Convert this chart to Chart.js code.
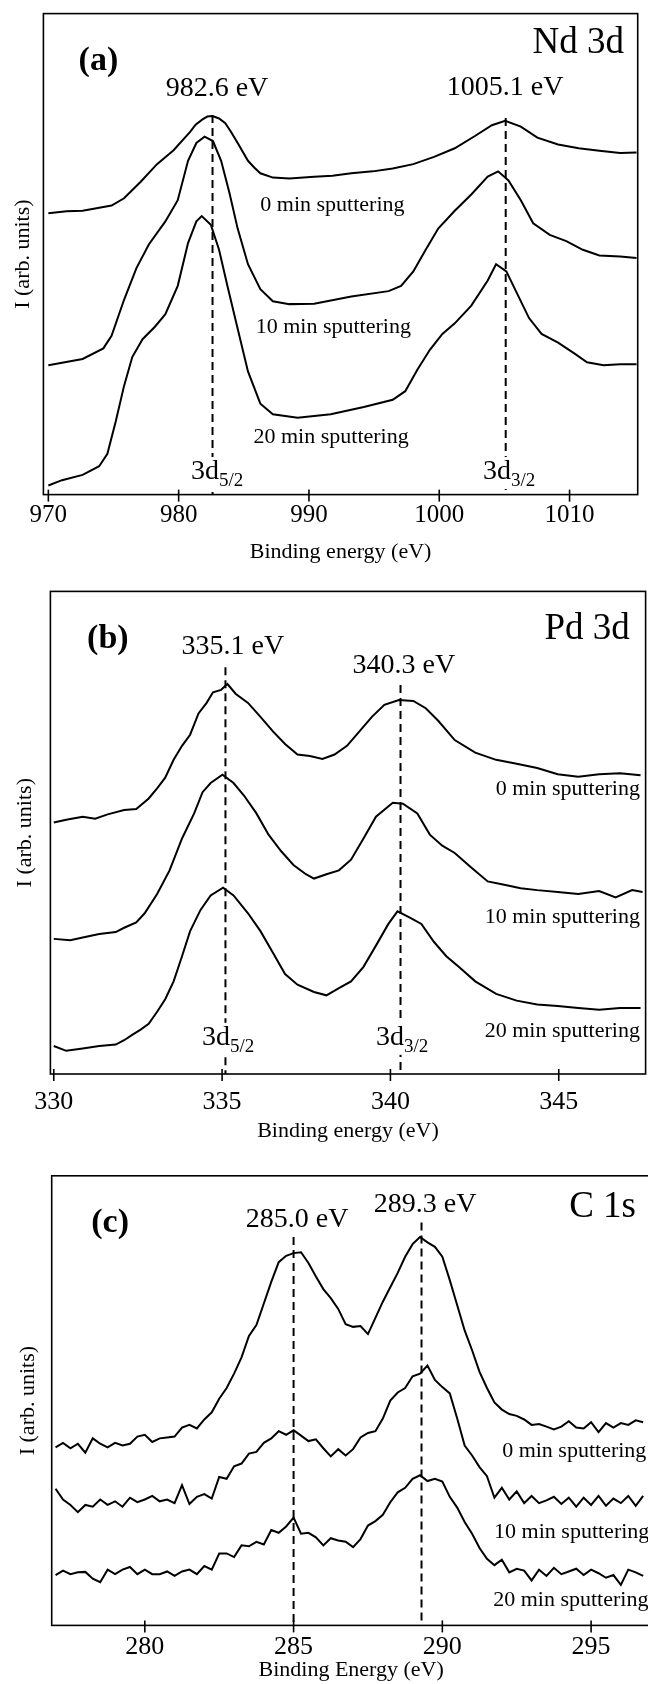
<!DOCTYPE html>
<html>
<head>
<meta charset="utf-8">
<script src="https://cdn.jsdelivr.net/npm/chart.js@4.4.1/dist/chart.umd.min.js"></script>
<style>
  body { margin: 0; background: #fff; width: 648px; height: 1684px; overflow: hidden; position: relative; }
  .panel { position: absolute; left: 0; }
</style>
</head>
<body>
<div class="panel" style="top:0px"><canvas id="chartA" width="660" height="565"></canvas></div>
<div class="panel" style="top:565px"><canvas id="chartB" width="660" height="585"></canvas></div>
<div class="panel" style="top:1150px"><canvas id="chartC" width="660" height="534"></canvas></div>
<script>
// ---- (a) Nd 3d ----
const aTicks = [970, 980, 990, 1000, 1010];
const aEnergy0 = [970.0, 971.4, 972.63, 973.8, 974.85, 975.81, 977.07, 978.34, 979.61, 980.88, 981.3, 981.83, 982.2, 982.59, 983.1, 983.58, 984.0, 984.53, 985.32, 985.8, 986.27, 987.23, 988.50, 990.40, 991.8, 993.25, 994.9, 996.43, 998.01, 999.60, 1001.19, 1002.77, 1004.04, 1005.06, 1006.26, 1007.53, 1009.12, 1010.70, 1012.29, 1013.88, 1015.14];
const aInt0 = [58.5, 58.9, 59.0, 59.6, 60.1, 61.6, 65.0, 68.7, 71.6, 75.4, 76.9, 78.0, 78.6, 78.7, 78.2, 77.2, 75.5, 73.1, 69.4, 68.0, 66.8, 65.9, 65.7, 66.1, 66.3, 66.8, 67.2, 67.8, 68.7, 70.2, 72.0, 74.6, 76.8, 77.7, 76.5, 74.2, 72.8, 72.0, 71.5, 71.0, 71.1];
const aEnergy10 = [970.0, 972.63, 974.22, 974.85, 975.81, 976.76, 977.71, 978.98, 979.93, 980.72, 981.36, 981.99, 982.63, 983.26, 983.90, 984.53, 985.32, 986.27, 987.23, 988.50, 990.40, 993.25, 996.11, 997.07, 998.01, 998.96, 999.92, 1001.19, 1002.46, 1003.72, 1004.52, 1005.31, 1006.26, 1007.21, 1008.48, 1009.75, 1011.02, 1012.29, 1013.88, 1015.14];
const aInt10 = [26.9, 28.2, 30.4, 33.0, 40.5, 47.1, 52.0, 56.8, 61.2, 69.4, 73.1, 74.4, 73.5, 69.4, 62.7, 55.3, 47.9, 42.7, 40.2, 39.6, 39.7, 41.2, 42.3, 43.4, 46.4, 50.9, 55.3, 59.0, 62.4, 66.1, 67.2, 65.3, 61.2, 56.4, 54.0, 52.7, 50.9, 49.7, 49.5, 49.2];
const aEnergy20 = [970.0, 971.05, 972.63, 973.90, 974.53, 975.17, 975.81, 976.44, 977.23, 978.18, 978.98, 979.93, 980.72, 981.36, 981.77, 982.47, 983.10, 983.74, 984.53, 985.32, 986.27, 987.23, 989.13, 991.67, 994.21, 996.43, 997.39, 998.33, 999.28, 1000.24, 1001.19, 1002.46, 1003.72, 1004.36, 1005.15, 1005.94, 1006.89, 1007.85, 1009.12, 1010.39, 1011.34, 1012.61, 1013.88, 1015.14];
const aInt20 = [1.9, 3.0, 4.1, 5.9, 8.5, 15.2, 22.6, 28.6, 32.3, 34.9, 37.5, 43.4, 52.3, 56.8, 57.9, 56.1, 50.9, 43.4, 34.5, 25.6, 18.9, 16.7, 16.0, 16.7, 18.2, 19.7, 21.5, 26.0, 30.1, 33.4, 35.6, 39.3, 44.5, 47.9, 46.4, 42.0, 36.7, 33.4, 31.6, 29.3, 27.5, 26.9, 27.1, 27.1];

// ---- (b) Pd 3d ----
const bTicks = [330, 335, 340, 345];
const bEnergy0 = [330.00, 330.37, 330.86, 331.23, 331.60, 332.09, 332.45, 332.82, 333.07, 333.31, 333.56, 333.81, 334.05, 334.30, 334.54, 334.73, 334.97, 335.16, 335.40, 335.77, 336.14, 336.51, 336.87, 337.24, 337.61, 337.98, 338.34, 338.71, 339.08, 339.45, 339.82, 340.25, 340.68, 341.05, 341.42, 341.91, 342.52, 343.14, 343.75, 344.36, 344.97, 345.58, 346.20, 346.82, 347.43];
const bInt0 = [52.1, 52.7, 53.3, 52.9, 53.8, 54.7, 54.9, 57.1, 59.2, 61.4, 65.1, 68.0, 70.3, 74.7, 76.9, 79.1, 79.6, 80.8, 78.8, 76.9, 74.0, 71.0, 68.4, 66.2, 65.9, 65.3, 66.2, 68.0, 71.0, 74.0, 76.5, 77.5, 77.3, 75.8, 73.2, 69.2, 66.6, 65.1, 64.3, 63.4, 62.1, 61.6, 62.1, 62.3, 61.9];
const bEnergy10 = [330.00, 330.49, 330.86, 331.35, 331.84, 332.09, 332.45, 332.70, 333.07, 333.44, 333.81, 334.17, 334.42, 334.66, 335.01, 335.34, 335.65, 336.02, 336.38, 336.75, 337.12, 337.49, 337.73, 338.10, 338.47, 338.83, 339.20, 339.57, 340.07, 340.37, 340.80, 341.17, 341.54, 341.91, 342.40, 342.89, 343.38, 343.87, 344.36, 344.97, 345.58, 346.20, 346.69, 347.18, 347.49];
const bInt10 = [28.0, 27.7, 28.3, 29.0, 29.4, 30.3, 31.4, 33.3, 37.3, 42.2, 48.8, 54.0, 58.4, 60.3, 62.0, 60.3, 57.7, 54.0, 49.6, 46.2, 43.3, 41.4, 40.5, 41.4, 42.2, 44.4, 48.8, 53.3, 56.2, 56.0, 54.0, 49.6, 47.3, 45.8, 42.8, 39.9, 39.2, 38.5, 38.1, 37.7, 37.3, 37.9, 36.6, 38.1, 37.7];
const bEnergy20 = [330.00, 330.37, 330.86, 331.35, 331.84, 332.09, 332.33, 332.58, 332.82, 333.07, 333.31, 333.56, 333.81, 334.05, 334.36, 334.66, 335.03, 335.34, 335.77, 336.14, 336.51, 336.87, 337.24, 337.73, 338.10, 338.47, 338.83, 339.20, 339.57, 339.94, 340.21, 340.55, 340.92, 341.29, 341.66, 342.03, 342.52, 343.14, 343.75, 344.36, 344.97, 345.58, 346.20, 346.82, 347.43];
const bInt20 = [5.8, 4.8, 5.3, 5.8, 6.1, 7.0, 8.1, 9.2, 10.4, 12.9, 15.5, 19.2, 24.4, 29.6, 34.0, 37.0, 38.6, 37.0, 33.3, 29.6, 25.1, 20.7, 18.5, 17.0, 16.3, 17.8, 19.2, 22.2, 26.6, 31.1, 33.7, 32.5, 31.1, 27.4, 24.4, 22.2, 19.2, 16.6, 15.2, 14.4, 14.1, 13.7, 13.3, 13.7, 13.7];

// ---- (c) C 1s ----
const cTicks = [280, 285, 290, 295];
const cEnergy = [277.00, 277.25, 277.50, 277.75, 278.00, 278.25, 278.50, 278.75, 279.00, 279.25,
  279.50, 279.75, 280.00, 280.25, 280.50, 280.75, 281.00, 281.25, 281.50, 281.75,
  282.00, 282.25, 282.50, 282.75, 283.00, 283.25, 283.50, 283.75, 284.00, 284.25,
  284.50, 284.75, 285.00, 285.25, 285.50, 285.75, 286.00, 286.25, 286.50, 286.75,
  287.00, 287.25, 287.50, 287.75, 288.00, 288.25, 288.50, 288.75, 289.00, 289.25,
  289.50, 289.75, 290.00, 290.25, 290.50, 290.75, 291.00, 291.25, 291.50, 291.75,
  292.00, 292.25, 292.50, 292.75, 293.00, 293.25, 293.50, 293.75, 294.00, 294.25,
  294.50, 294.75, 295.00, 295.25, 295.50, 295.75, 296.00, 296.25, 296.50, 296.75];
const cInt0 = [39.6, 40.6, 39.4, 40.4, 38.4, 41.6, 40.4, 39.6, 40.6, 40.0,
  40.4, 42.0, 42.4, 40.8, 41.6, 41.8, 42.0, 44.0, 44.6, 43.8,
  45.8, 47.4, 50.4, 52.8, 56.0, 59.6, 64.4, 66.8, 71.6, 76.4,
  80.8, 82.2, 82.8, 83.0, 80.6, 77.6, 74.8, 72.8, 70.4, 67.0,
  66.4, 66.6, 64.8, 68.4, 72.0, 75.2, 78.4, 82.0, 84.8, 86.4,
  85.2, 84.2, 82.0, 76.8, 71.2, 65.6, 61.2, 56.4, 52.8, 49.6,
  48.0, 47.0, 46.6, 45.8, 44.6, 44.8, 44.2, 43.6, 44.2, 45.4,
  44.0, 43.8, 45.2, 43.0, 45.0, 44.0, 45.0, 44.6, 45.6, 45.2];
const cInt10 = [30.4, 28.0, 26.8, 25.2, 26.8, 26.4, 28.0, 26.8, 27.6, 26.4,
  28.4, 27.4, 28.0, 28.8, 27.6, 28.0, 27.2, 31.2, 27.0, 28.6,
  29.2, 28.2, 33.0, 32.6, 35.4, 36.0, 38.2, 38.6, 40.6, 41.6,
  43.2, 42.4, 43.4, 42.2, 41.0, 41.4, 39.4, 37.6, 39.2, 37.8,
  39.2, 41.8, 42.8, 43.2, 46.0, 50.0, 51.8, 52.8, 55.4, 56.0,
  57.8, 54.6, 53.0, 51.6, 46.0, 40.0, 37.8, 35.2, 33.2, 28.4,
  30.6, 28.0, 29.8, 27.2, 28.8, 27.2, 27.8, 28.6, 27.0, 28.4,
  26.4, 28.4, 26.8, 28.8, 26.6, 28.2, 27.2, 28.8, 26.6, 28.8];
const cInt20 = [11.2, 12.2, 11.4, 11.8, 11.9, 10.4, 9.6, 12.4, 11.4, 12.4,
  13.0, 11.4, 12.4, 11.4, 11.4, 12.0, 11.0, 12.0, 12.4, 11.4,
  13.2, 12.4, 16.0, 16.0, 15.2, 17.8, 17.6, 18.6, 18.0, 21.2,
  20.6, 22.0, 24.0, 20.4, 20.6, 19.6, 17.8, 19.4, 18.9, 18.6,
  17.4, 19.2, 22.2, 23.2, 24.6, 27.4, 29.6, 30.6, 32.6, 33.4,
  32.1, 32.6, 32.0, 28.6, 26.2, 23.0, 20.4, 17.2, 14.8, 13.4,
  14.6, 11.8, 12.6, 12.2, 10.0, 12.4, 11.0, 12.8, 11.4, 12.0,
  12.6, 11.2, 12.4, 11.6, 10.6, 11.2, 9.0, 12.4, 11.8, 11.0];

const serif = "'Liberation Serif', 'Times New Roman', serif";
Chart.defaults.font.family = serif;
Chart.defaults.color = '#000';

function pts(xs, ys) {
  return xs.map((x, i) => ({x: x, y: ys[i]}));
}

function line(label, xs, ys) {
  return {label: label, data: pts(xs, ys), borderColor: '#000', borderWidth: 2,
    pointRadius: 0, tension: 0, fill: false};
}

// frame, crossing ticks, dashed peak lines and all the labels
const notesPlugin = {
  id: 'notes',
  afterDatasetsDraw(chart, args, opts) {
    const ctx = chart.ctx;
    const ca = chart.chartArea;
    const x = chart.scales.x, y = chart.scales.y;
    ctx.save();
    ctx.strokeStyle = '#000';
    ctx.lineWidth = 2;
    ctx.setLineDash([8, 5]);
    opts.lines.forEach(function(l) {
      const px = x.getPixelForValue(l.x);
      ctx.beginPath();
      ctx.moveTo(px, y.getPixelForValue(l.from));
      ctx.lineTo(px, ca.bottom);
      ctx.stroke();
    });
    ctx.setLineDash([]);
    ctx.lineWidth = 1.6;
    ctx.strokeRect(ca.left, ca.top, ca.right - ca.left, ca.bottom - ca.top);
    x.ticks.forEach(function(t) {
      const px = x.getPixelForValue(t.value);
      ctx.beginPath();
      ctx.moveTo(px, ca.bottom - 5);
      ctx.lineTo(px, ca.bottom + 7);
      ctx.stroke();
    });
    ctx.fillStyle = '#000';
    ctx.textBaseline = 'middle';
    opts.texts.forEach(function(t) {
      ctx.font = t.font + ' ' + serif;
      ctx.textAlign = t.align;
      ctx.fillText(t.t, x.getPixelForValue(t.x), y.getPixelForValue(t.y));
    });
    opts.subs.forEach(function(s) {
      const px = x.getPixelForValue(s.x), py = y.getPixelForValue(s.y);
      ctx.font = '28px ' + serif;
      const w1 = ctx.measureText(s.t).width;
      ctx.font = '19px ' + serif;
      const w2 = ctx.measureText(s.s).width;
      ctx.fillStyle = '#fff';
      ctx.fillRect(px - 2, py - 15, w1 + w2 + 4, 32);
      ctx.fillStyle = '#000';
      ctx.textAlign = 'left';
      ctx.font = '28px ' + serif;
      ctx.fillText(s.t, px, py);
      ctx.font = '19px ' + serif;
      ctx.fillText(s.s, px + w1, py + 9);
    });
    ctx.restore();
  }
};

function makeChart(id, cfg) {
  new Chart(document.getElementById(id), {
    type: 'line',
    data: {datasets: cfg.datasets},
    plugins: [notesPlugin],
    options: {
      responsive: false,
      animation: false,
      layout: {padding: {top: cfg.top, right: cfg.right, left: 0, bottom: 0}},
      plugins: {legend: {display: false}, tooltip: {enabled: false}, notes: cfg.notes},
      scales: {
        x: {
          type: 'linear', min: cfg.xmin, max: cfg.xmax,
          afterBuildTicks: function(s) { s.ticks = cfg.ticks.map(function(v) { return {value: v}; }); },
          afterFit: function(s) { s.height = cfg.xHeight; },
          grid: {display: false, drawTicks: false, tickLength: 0},
          border: {display: false},
          ticks: {autoSkip: false, maxRotation: 0, padding: cfg.tickPad, font: {size: cfg.tickSize}, color: '#000',
            callback: function(v) { return String(v); }},
          title: {display: true, text: cfg.xTitle, font: {size: 22}, color: '#000', padding: {top: 0, bottom: cfg.titlePad}}
        },
        y: {
          min: 0, max: 100,
          afterFit: function(s) { s.width = cfg.yWidth; },
          grid: {display: false, drawTicks: false},
          border: {display: false},
          ticks: {display: false},
          title: {display: true, text: 'I (arb. units)', font: {size: 22}, color: '#000', padding: {top: cfg.yTitlePad, bottom: 0}}
        }
      }
    }
  });
}

makeChart('chartA', {
  datasets: [line('0 min sputtering', aEnergy0, aInt0), line('10 min sputtering', aEnergy10, aInt10), line('20 min sputtering', aEnergy20, aInt20)],
  ticks: aTicks, xmin: 969.62, xmax: 1015.23,
  top: 13.6, right: 22.3, yWidth: 43.4, xHeight: 70.4,
  tickPad: 6, tickSize: 25, titlePad: 0, yTitlePad: 10,
  xTitle: 'Binding energy (eV)',
  notes: {
    lines: [{x: 982.6, from: 78.9}, {x: 1005.1, from: 78.3}],
    texts: [
      {t: '(a)', x: 972.32, y: 90.0, align: 'left', font: 'bold 34px'},
      {t: 'Nd 3d', x: 1014.18, y: 93.9, align: 'right', font: '37px'},
      {t: '982.6 eV', x: 982.94, y: 84.5, align: 'center', font: '28px'},
      {t: '1005.1 eV', x: 1005.05, y: 84.7, align: 'center', font: '28px'},
      {t: '0 min sputtering', x: 991.8, y: 60.2, align: 'center', font: '22px'},
      {t: '10 min sputtering', x: 991.87, y: 34.8, align: 'center', font: '22px'},
      {t: '20 min sputtering', x: 991.7, y: 12.0, align: 'center', font: '22px'}
    ],
    subs: [{t: '3d', s: '5/2', x: 980.95, y: 4.7}, {t: '3d', s: '3/2', x: 1003.36, y: 4.7}]
  }
});

makeChart('chartB', {
  datasets: [line('0 min sputtering', bEnergy0, bInt0), line('10 min sputtering', bEnergy10, bInt10), line('20 min sputtering', bEnergy20, bInt20)],
  ticks: bTicks, xmin: 329.90, xmax: 347.58,
  top: 26.4, right: 14.4, yWidth: 50.4, xHeight: 76,
  tickPad: 13, tickSize: 26, titlePad: 5.8, yTitlePad: 12,
  xTitle: 'Binding energy (eV)',
  notes: {
    lines: [{x: 335.1, from: 84.3}, {x: 340.3, from: 80.6}],
    texts: [
      {t: '(b)', x: 330.99, y: 90.1, align: 'left', font: 'bold 34px'},
      {t: 'Pd 3d', x: 347.11, y: 92.2, align: 'right', font: '37px'},
      {t: '335.1 eV', x: 335.32, y: 88.5, align: 'center', font: '28px'},
      {t: '340.3 eV', x: 340.40, y: 84.7, align: 'center', font: '28px'},
      {t: '0 min sputtering', x: 347.41, y: 59.1, align: 'right', font: '22px'},
      {t: '10 min sputtering', x: 347.41, y: 32.5, align: 'right', font: '22px'},
      {t: '20 min sputtering', x: 347.41, y: 8.9, align: 'right', font: '22px'}
    ],
    subs: [{t: '3d', s: '5/2', x: 334.40, y: 7.5}, {t: '3d', s: '3/2', x: 339.57, y: 7.5}]
  }
});

makeChart('chartC', {
  datasets: [line('0 min sputtering', cEnergy, cInt0), line('10 min sputtering', cEnergy, cInt10), line('20 min sputtering', cEnergy, cInt20)],
  ticks: cTicks, xmin: 276.87, xmax: 297.0,
  top: 25.8, right: 9.4, yWidth: 51.7, xHeight: 58.6,
  tickPad: 6, tickSize: 26, titlePad: 1, yTitlePad: 15,
  xTitle: 'Binding Energy (eV)',
  notes: {
    lines: [{x: 285.0, from: 86.4}, {x: 289.3, from: 89.6}],
    texts: [
      {t: '(c)', x: 278.20, y: 89.5, align: 'left', font: 'bold 34px'},
      {t: 'C 1s', x: 296.51, y: 93.1, align: 'right', font: '37px'},
      {t: '285.0 eV', x: 285.12, y: 90.2, align: 'center', font: '28px'},
      {t: '289.3 eV', x: 289.42, y: 93.5, align: 'center', font: '28px'},
      {t: '0 min sputtering', x: 292.01, y: 38.8, align: 'left', font: '22px'},
      {t: '10 min sputtering', x: 291.74, y: 20.8, align: 'left', font: '22px'},
      {t: '20 min sputtering', x: 291.71, y: 5.7, align: 'left', font: '22px'}
    ],
    subs: []
  }
});
</script>
</body>
</html>
